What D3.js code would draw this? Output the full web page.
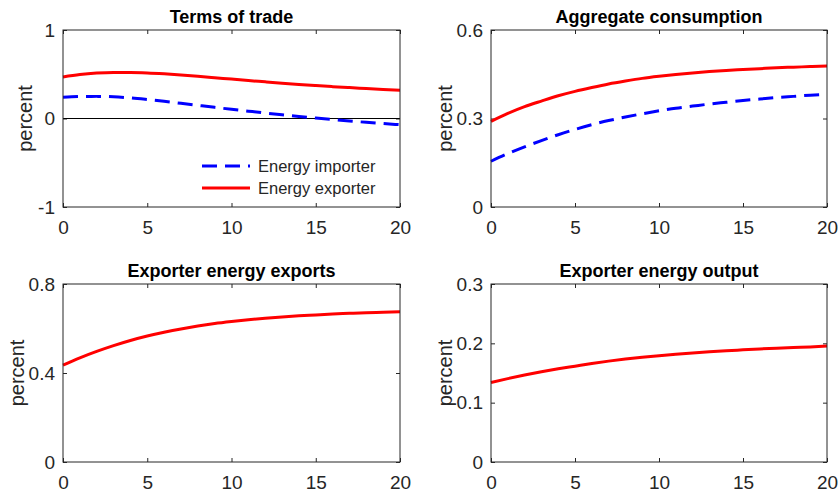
<!DOCTYPE html>
<html>
<head>
<meta charset="utf-8">
<script src="https://cdn.jsdelivr.net/npm/d3@7"></script>
<style>
  body { margin: 0; background: #fff; }
  svg { display: block; font-family: "Liberation Sans", Arial, sans-serif; }
</style>
</head>
<body>
<div id="chart"></div>
<script>
const width = 839;
const height = 494;

// horizon (quarters)
const quarters = d3.range(0, 21);

// Terms of trade
const totImporter = [0.24, 0.248, 0.25, 0.245, 0.232, 0.214, 0.194, 0.172, 0.149, 0.126, 0.104,
                     0.083, 0.062, 0.042, 0.023, 0.005, -0.012, -0.028, -0.043, -0.057, -0.07];
const totExporter = [0.47, 0.497, 0.513, 0.52, 0.52, 0.515, 0.505, 0.492, 0.477, 0.461, 0.445,
                     0.429, 0.414, 0.399, 0.385, 0.372, 0.36, 0.349, 0.339, 0.329, 0.32];

// Aggregate consumption
const consImporter = [0.155, 0.181, 0.204, 0.225, 0.245, 0.263, 0.279, 0.293, 0.305, 0.316, 0.326,
                      0.335, 0.342, 0.349, 0.355, 0.361, 0.366, 0.371, 0.375, 0.379, 0.382];
const consExporter = [0.29, 0.317, 0.34, 0.359, 0.377, 0.392, 0.405, 0.417, 0.427, 0.436, 0.443,
                      0.449, 0.454, 0.459, 0.463, 0.466, 0.469, 0.472, 0.474, 0.476, 0.478];

// Exporter energy exports
const energyExports = [0.435, 0.468, 0.497, 0.523, 0.546, 0.566, 0.583, 0.598, 0.611, 0.622, 0.631,
                       0.639, 0.646, 0.652, 0.657, 0.661, 0.665, 0.668, 0.671, 0.673, 0.675];

// Exporter energy output
const energyOutput = [0.134, 0.1405, 0.1465, 0.152, 0.157, 0.1615, 0.166, 0.17, 0.1735, 0.1765, 0.179,
                      0.1815, 0.1838, 0.1858, 0.1875, 0.189, 0.1905, 0.1918, 0.193, 0.194, 0.1955];

const xTicks = [0, 5, 10, 15, 20];
const legendLabels = ['Energy importer', 'Energy exporter'];

const blue = '#0000ff';
const red = '#ff0000';
const axisColor = '#262626';
const dash = '15,8';
const intFmt = d => String(d);
const oneDec = d => d === 0 ? '0' : d.toFixed(1);

const panels = [
  {title: 'Terms of trade', left: 63, top: 30, w: 337, h: 177, labelOff: 38,
   yDomain: [-1, 1], yTicks: [-1, 0, 1], fmt: intFmt, zero: true, legend: true,
   series: [{values: totImporter, color: blue, dash: true}, {values: totExporter, color: red}]},
  {title: 'Aggregate consumption', left: 491, top: 30, w: 336, h: 177, labelOff: 46,
   yDomain: [0, 0.6], yTicks: [0, 0.3, 0.6], fmt: oneDec,
   series: [{values: consImporter, color: blue, dash: true}, {values: consExporter, color: red}]},
  {title: 'Exporter energy exports', left: 63, top: 284, w: 337, h: 178, labelOff: 46,
   yDomain: [0, 0.8], yTicks: [0, 0.4, 0.8], fmt: oneDec,
   series: [{values: energyExports, color: red}]},
  {title: 'Exporter energy output', left: 491, top: 284, w: 336, h: 178, labelOff: 46,
   yDomain: [0, 0.3], yTicks: [0, 0.1, 0.2, 0.3], fmt: oneDec,
   series: [{values: energyOutput, color: red}]}
];

const svg = d3.select('#chart').append('svg')
  .attr('width', width)
  .attr('height', height);

panels.forEach(p => {
  const g = svg.append('g').attr('transform', `translate(${p.left},${p.top})`);
  const x = d3.scaleLinear().domain([0, 20]).range([0, p.w]);
  const y = d3.scaleLinear().domain(p.yDomain).range([p.h, 0]);

  // bottom axis with inward ticks
  g.append('g')
    .attr('transform', `translate(0,${p.h})`)
    .call(d3.axisBottom(x).tickValues(xTicks).tickFormat(intFmt).tickSizeInner(-4).tickSizeOuter(0).tickPadding(14))
    .call(a => a.select('.domain').remove())
    .call(a => a.selectAll('.tick line').attr('stroke', axisColor))
    .call(a => a.selectAll('.tick text').attr('fill', axisColor).style('font-size', '19px'));

  // top ticks
  g.append('g')
    .call(d3.axisTop(x).tickValues(xTicks).tickSizeInner(-4).tickSizeOuter(0).tickFormat(''))
    .call(a => a.select('.domain').remove())
    .call(a => a.selectAll('.tick line').attr('stroke', axisColor));

  // left axis
  g.append('g')
    .call(d3.axisLeft(y).tickValues(p.yTicks).tickFormat(p.fmt).tickSizeInner(-4).tickSizeOuter(0).tickPadding(8))
    .call(a => a.select('.domain').remove())
    .call(a => a.selectAll('.tick line').attr('stroke', axisColor))
    .call(a => a.selectAll('.tick text').attr('fill', axisColor).style('font-size', '19px'));

  // right ticks
  g.append('g')
    .attr('transform', `translate(${p.w},0)`)
    .call(d3.axisRight(y).tickValues(p.yTicks).tickSizeInner(-4).tickSizeOuter(0).tickFormat(''))
    .call(a => a.select('.domain').remove())
    .call(a => a.selectAll('.tick line').attr('stroke', axisColor));

  if (p.zero) {
    g.append('line')
      .attr('x1', 0).attr('x2', p.w)
      .attr('y1', y(0)).attr('y2', y(0))
      .attr('stroke', '#000').attr('stroke-width', 1.2);
  }

  const line = d3.line()
    .x((d, i) => x(quarters[i]))
    .y(d => y(d))
    .curve(d3.curveMonotoneX);

  p.series.forEach(s => {
    g.append('path')
      .datum(s.values)
      .attr('fill', 'none')
      .attr('stroke', s.color)
      .attr('stroke-width', 3)
      .attr('stroke-dasharray', s.dash ? dash : null)
      .attr('d', line);
  });

  // frame
  g.append('rect')
    .attr('width', p.w).attr('height', p.h)
    .attr('fill', 'none')
    .attr('stroke', axisColor)
    .attr('stroke-width', 1);

  g.append('text')
    .attr('x', p.w / 2).attr('y', -7)
    .attr('text-anchor', 'middle')
    .attr('font-weight', 'bold')
    .attr('font-size', '18px')
    .attr('fill', '#000')
    .text(p.title);

  g.append('text')
    .attr('transform', `translate(${-p.labelOff},${p.h / 2}) rotate(-90)`)
    .attr('dy', '0.35em')
    .attr('text-anchor', 'middle')
    .attr('font-size', '20px')
    .attr('fill', axisColor)
    .text('percent');

  if (p.legend) {
    const lg = g.append('g').attr('transform', `translate(${202 - p.left},${166 - p.top})`);
    const items = [{label: legendLabels[0], color: blue, dash: true},
                   {label: legendLabels[1], color: red}];
    items.forEach((it, i) => {
      lg.append('line')
        .attr('x1', 0).attr('x2', 48)
        .attr('y1', i * 22).attr('y2', i * 22)
        .attr('stroke', it.color)
        .attr('stroke-width', 3)
        .attr('stroke-dasharray', it.dash ? dash : null);
      lg.append('text')
        .attr('x', 56).attr('y', i * 22)
        .attr('dy', '0.35em')
        .attr('font-size', '16.5px')
        .attr('fill', axisColor)
        .text(it.label);
    });
  }
});
</script>
</body>
</html>
